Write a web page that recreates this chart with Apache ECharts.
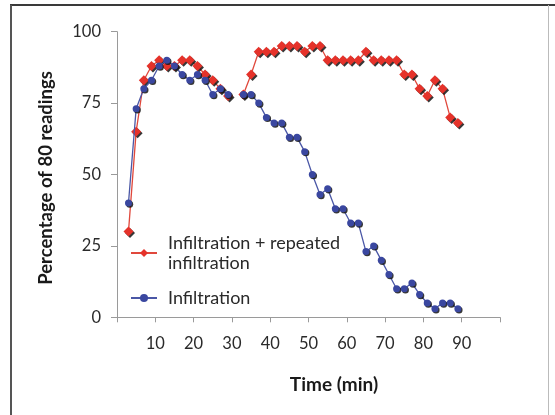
<!DOCTYPE html>
<html><head><meta charset="utf-8">
<script src="https://cdn.jsdelivr.net/npm/echarts@6/dist/echarts.min.js"></script>
<style>html,body{margin:0;padding:0;background:#fff}#c{width:555px;height:415px}</style>
</head><body><div id="c"></div>
<script>
// Time points (min); 31 min has no reading (gap in both lines)
const minutes = [3,5,7,9,11,13,15,17,19,21,23,25,27,29,31,33,35,37,39,41,43,45,47,49,51,53,55,57,59,61,63,65,67,69,71,73,75,77,79,81,83,85,87,89];
const repeatedInfiltration = [30,65,83,88,90,88,88,90,90,88,85,83,80,77.5,null,78,85,93,93,93,95,95,95,93,95,95,90,90,90,90,90,93,90,90,90,90,85,85,80,77.5,83,80,70,68];
const infiltration = [40,73,80,83,88,90,88,85,83,85,83,78,80,78,null,78,78,75,70,68,68,63,63,58,50,43,45,38,38,33,33,23,25,20,15,10,10,12,8,5,3,5,5,3];
const xTickLabels = [10,20,30,40,50,60,70,80,90];
const yTicks = [0,25,50,75,100];
const seriesNames = ['Infiltration + repeated infiltration','Infiltration'];

const FONT = 'Lato, "Open Sans", sans-serif';
const chart = echarts.init(document.getElementById('c'), null, {renderer:'canvas'});
const pairs = arr => minutes.map((m,i)=>[m, arr[i] === null ? '-' : arr[i]]);

chart.setOption({
  animation:false,
  backgroundColor:'#fff',
  grid:{left:117, right:55, top:31.7, bottom:97.7, containLabel:false},
  xAxis:{
    type:'value', min:0, max:100, interval:10,
    axisLine:{show:true, lineStyle:{color:'#9a9a9a', width:1}},
    axisTick:{show:true, length:5, lineStyle:{color:'#9a9a9a'}},
    splitLine:{show:false},
    axisLabel:{margin:18, fontSize:16.5, color:'#2a2a2a', fontFamily:FONT,
      formatter: v => xTickLabels.indexOf(v) >= 0 ? String(v) : ''}
  },
  yAxis:{
    type:'value', min:yTicks[0], max:yTicks[yTicks.length-1], interval:25,
    axisLine:{show:true, lineStyle:{color:'#9a9a9a', width:1}},
    axisTick:{show:true, length:6, lineStyle:{color:'#9a9a9a'}},
    splitLine:{show:false},
    axisLabel:{margin:16, fontSize:16.5, color:'#2a2a2a', fontFamily:FONT}
  },
  legend:[
    {data:[seriesNames[0]], left:130, top:223, orient:'vertical', padding:0,
     itemWidth:26, itemHeight:10,
     formatter:()=> 'Infiltration + repeated\ninfiltration',
     textStyle:{fontSize:18, lineHeight:20, color:'#2a2a2a', fontFamily:FONT, padding:[20,0,0,6]}},
    {data:[seriesNames[1]], left:130, top:288, orient:'vertical', padding:0,
     itemWidth:26, itemHeight:10,
     textStyle:{fontSize:18, lineHeight:20, color:'#2a2a2a', fontFamily:FONT, padding:[0,0,0,6]}}
  ],
  series:[
    {name:seriesNames[0], type:'line', data:pairs(repeatedInfiltration), connectNulls:false,
     symbol:'diamond', symbolSize:10, z:2,
     lineStyle:{color:'#e0483c', width:1.3},
     itemStyle:{color:'#e5322a', shadowColor:'rgba(20,20,20,0.85)', shadowOffsetX:1.5, shadowOffsetY:1.5, shadowBlur:0}},
    {name:seriesNames[1], type:'line', data:pairs(infiltration), connectNulls:false,
     symbol:'circle', symbolSize:7, z:3,
     lineStyle:{color:'#4a57a6', width:1.3},
     itemStyle:{color:'#3a47a0', shadowColor:'rgba(20,20,20,0.85)', shadowOffsetX:1.2, shadowOffsetY:1.2, shadowBlur:0}}
  ],
  graphic:[
    {type:'line', shape:{x1:10, y1:5, x2:555, y2:5}, style:{stroke:'#3a3a3a', lineWidth:2}},
    {type:'line', shape:{x1:11, y1:5, x2:11, y2:415}, style:{stroke:'#555', lineWidth:2}},
    {type:'line', shape:{x1:548.5, y1:5, x2:548.5, y2:415}, style:{stroke:'#bbb', lineWidth:1}},
    {type:'text', x:46, y:178, rotation:Math.PI/2,
     style:{text:'Percentage of 80 readings', fontSize:18.5, fontWeight:'bold', fontFamily:FONT, fill:'#1a1a1a', align:'center', verticalAlign:'middle'}},
    {type:'text', x:334, y:385,
     style:{text:'Time (min)', fontSize:19, fontWeight:'bold', fontFamily:FONT, fill:'#1a1a1a', align:'center', verticalAlign:'middle'}}
  ]
});
</script></body></html>
